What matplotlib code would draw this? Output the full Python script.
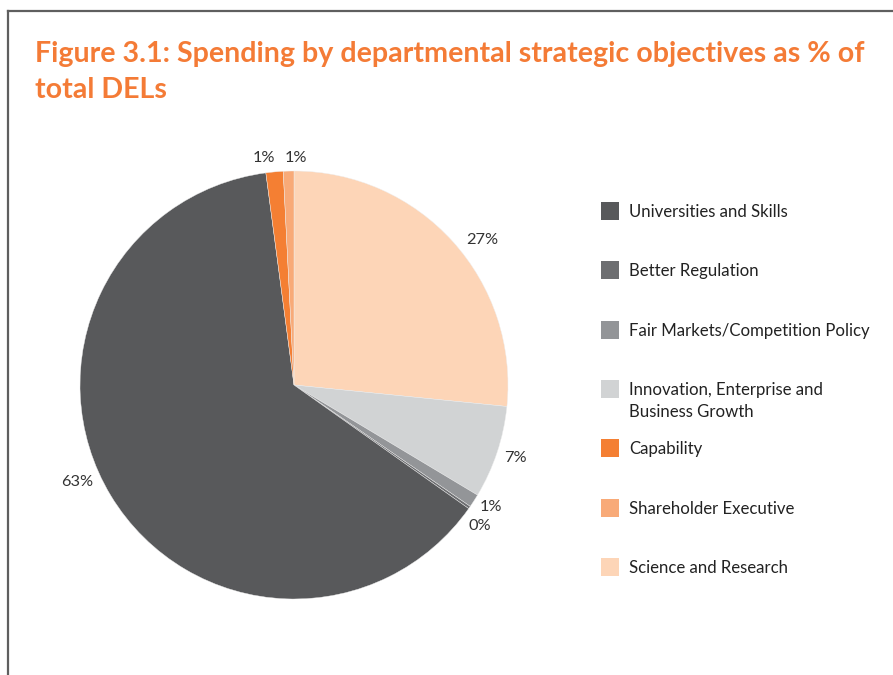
import numpy as np
import matplotlib.pyplot as plt
from matplotlib.patches import Rectangle
from matplotlib.lines import Line2D

plt.rcParams['font.family'] = ['Lato', 'DejaVu Sans']

# slices in drawing order (clockwise from 12 o'clock)
slice_names = ['Science and Research',
               'Innovation, Enterprise and\nBusiness Growth',
               'Fair Markets/Competition Policy',
               'Better Regulation',
               'Universities and Skills',
               'Capability',
               'Shareholder Executive']
slice_values = [26.6, 7.0, 1.0, 0.2, 63.1, 1.3, 0.8]
slice_colors = ['#fdd5b7', '#d1d3d4', '#939598', '#6d6e71', '#58595b',
                '#f47f33', '#f8aa78']

# legend order
legend_order = [4, 3, 2, 1, 5, 6, 0]

# nudges for the percentage labels: (radius factor, angle shift in degrees)
label_nudge = [(1.11, -4.5), (1.09, 0.0), (1.08, 1.0), (1.09, -2.2),
               (1.11, -7.0), (1.07, 2.2), (1.06, -2.0)]

W, H = 893, 675
fig = plt.figure(figsize=(W / 100, H / 100), dpi=100)

# frame lines along top and left
fig.add_artist(Line2D([7.5 / W, 1.0], [1 - 10.5 / H, 1 - 10.5 / H],
                      color='#5f5f5f', lw=1.6, transform=fig.transFigure))
fig.add_artist(Line2D([7.5 / W, 7.5 / W], [0.0, 1 - 10.5 / H],
                      color='#5f5f5f', lw=1.6, transform=fig.transFigure))

title_color = '#f47b36'
fig.text(35 / W, 1 - 62 / H,
         'Figure 3.1: Spending by departmental strategic objectives as % of',
         color=title_color, fontsize=20.6, fontweight='bold', va='baseline')
fig.text(35 / W, 1 - 98 / H, 'total DELs',
         color=title_color, fontsize=20.6, fontweight='bold', va='baseline')

# pie axes
cx, cy, R = 294, 385, 214
ax = fig.add_axes([(cx - R) / W, (H - cy - R) / H, 2 * R / W, 2 * R / H])
wedges, _ = ax.pie(slice_values, colors=slice_colors, startangle=90,
                   counterclock=False,
                   wedgeprops=dict(linewidth=0.3, edgecolor='#eeeeee'))
ax.set_xlim(-1, 1)
ax.set_ylim(-1, 1)
ax.set_aspect('equal')
ax.axis('off')

total = sum(slice_values)
for w, v, (rf, da) in zip(wedges, slice_values, label_nudge):
    mid = np.deg2rad((w.theta1 + w.theta2) / 2 + da)
    ax.text(rf * np.cos(mid), rf * np.sin(mid), f'{v / total * 100:.0f}%',
            ha='center', va='center', fontsize=11.8, color='#333333',
            clip_on=False)

# legend
for k, i in enumerate(legend_order):
    top = 202 + k * 59.3
    fig.add_artist(Rectangle((601 / W, 1 - (top + 18) / H), 18 / W, 18 / H,
                             facecolor=slice_colors[i], edgecolor='none',
                             transform=fig.transFigure))
    fig.text(629 / W, 1 - (top + 10) / H, slice_names[i].split('\n')[0],
             fontsize=12.1, color='#222222', va='center')
    if '\n' in slice_names[i]:
        fig.text(629 / W, 1 - (top + 32) / H, slice_names[i].split('\n')[1],
                 fontsize=12.1, color='#222222', va='center')

fig.savefig('out.png', dpi=100, facecolor='white')
